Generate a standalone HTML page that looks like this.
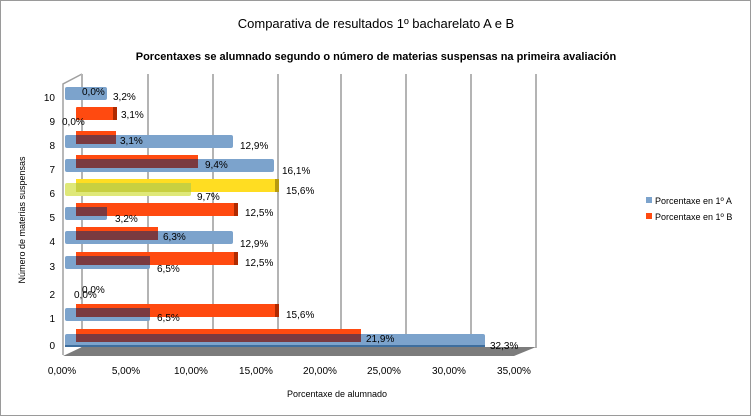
<!DOCTYPE html>
<html><head><meta charset="utf-8"><style>
html,body{margin:0;padding:0;background:#fff;}
svg{display:block;}
text{font-family:"Liberation Sans",Arial,sans-serif;fill:#000;}
.v{font-size:10px;}
</style></head><body>
<svg width="752" height="417" viewBox="0 0 752 417" xmlns="http://www.w3.org/2000/svg">
<rect x="0.5" y="0.5" width="750" height="415" fill="#fff" stroke="#9a9a9a"/>
<text x="376" y="28" font-size="13" text-anchor="middle">Comparativa de resultados 1º bacharelato A e B</text>
<text x="376" y="60" font-size="11" font-weight="bold" text-anchor="middle">Porcentaxes se alumnado segundo o número de materias suspensas na primeira avaliación</text>
<!-- walls -->
<polyline points="63,355 63,84 82,74" fill="none" stroke="#a0a0a0" stroke-width="1.5"/>
<g stroke="#b4b4b4" stroke-width="2">
<line x1="82" y1="74" x2="82" y2="348"/>
<line x1="148" y1="74" x2="148" y2="348"/>
<line x1="213" y1="74" x2="213" y2="348"/>
<line x1="278" y1="74" x2="278" y2="348"/>
<line x1="341" y1="74" x2="341" y2="348"/>
<line x1="406" y1="74" x2="406" y2="348"/>
<line x1="471" y1="74" x2="471" y2="348"/>
<line x1="536" y1="74" x2="536" y2="348"/>
</g>
<polygon points="63,356 82,347 536,347 514,356" fill="#7c7c7c"/>
<!-- y labels -->
<g font-size="10" text-anchor="end">
<text x="55" y="101">10</text><text x="55" y="125">9</text><text x="55" y="149">8</text><text x="55" y="173">7</text><text x="55" y="197">6</text><text x="55" y="221">5</text><text x="55" y="245">4</text><text x="55" y="270">3</text><text x="55" y="298">2</text><text x="55" y="322">1</text><text x="55" y="349">0</text>
</g>
<!-- bars: red first, blue over, overlap maroon -->
<g>
<!-- row10 -->
<rect x="65" y="87" width="42" height="13" rx="2" fill="#7ca3cc"/>
<!-- row9 -->
<rect x="76" y="107" width="40" height="13" rx="1" fill="#ff4a10"/><rect x="113" y="107" width="4" height="13" fill="#b02a00"/>
<!-- row8 -->
<rect x="76" y="131" width="40" height="13" fill="#ff4a10"/>
<rect x="65" y="135" width="168" height="13" rx="2" fill="#7ca3cc"/>
<rect x="76" y="135" width="40" height="9" fill="#7a3a40"/>
<!-- row7 -->
<rect x="76" y="155" width="122" height="13" fill="#ff4a10"/>
<rect x="65" y="159" width="209" height="13" rx="2" fill="#7ca3cc"/>
<rect x="76" y="159" width="122" height="9" fill="#7a3a40"/>
<!-- row6 -->
<rect x="76" y="179" width="203" height="13" fill="#ffdd22"/><rect x="275" y="179" width="4" height="13" fill="#b89a10"/>
<rect x="65" y="183" width="126" height="13" rx="2" fill="#dfe878"/>
<rect x="76" y="183" width="115" height="9" fill="#c8d040"/>
<!-- row5 -->
<rect x="76" y="203" width="162" height="13" fill="#ff4a10"/><rect x="234" y="203" width="4" height="13" fill="#b02a00"/>
<rect x="65" y="207" width="42" height="13" rx="2" fill="#7ca3cc"/>
<rect x="76" y="207" width="31" height="9" fill="#7a3a40"/>
<!-- row4 -->
<rect x="76" y="227" width="82" height="13" fill="#ff4a10"/>
<rect x="65" y="231" width="168" height="13" rx="2" fill="#7ca3cc"/>
<rect x="76" y="231" width="82" height="9" fill="#7a3a40"/>
<!-- row3 -->
<rect x="76" y="252" width="162" height="13" fill="#ff4a10"/><rect x="234" y="252" width="4" height="13" fill="#b02a00"/>
<rect x="65" y="256" width="85" height="13" rx="2" fill="#7ca3cc"/>
<rect x="76" y="256" width="74" height="9" fill="#7a3a40"/>
<!-- row1 -->
<rect x="76" y="304" width="203" height="13" fill="#ff4a10"/><rect x="275" y="304" width="4" height="13" fill="#b02a00"/>
<rect x="65" y="308" width="85" height="13" rx="2" fill="#7ca3cc"/>
<rect x="76" y="308" width="74" height="9" fill="#7a3a40"/>
<!-- row0 -->
<rect x="76" y="329" width="285" height="13" fill="#ff4a10"/>
<rect x="65" y="334" width="420" height="13" rx="2" fill="#7ca3cc"/>
<rect x="76" y="334" width="285" height="8" fill="#7a3a40"/>
<rect x="65" y="345" width="420" height="2" fill="#3e6e9e"/>
</g>
<!-- value labels -->
<g class="v">
<text x="82" y="95">0,0%</text><text x="113" y="100">3,2%</text>
<text x="121" y="118">3,1%</text><text x="62" y="125">0,0%</text>
<text x="120" y="144">3,1%</text><text x="240" y="149">12,9%</text>
<text x="205" y="168">9,4%</text><text x="282" y="174">16,1%</text>
<text x="197" y="200">9,7%</text><text x="286" y="194">15,6%</text>
<text x="115" y="222">3,2%</text><text x="245" y="216">12,5%</text>
<text x="163" y="240">6,3%</text><text x="240" y="247">12,9%</text>
<text x="157" y="272">6,5%</text><text x="245" y="266">12,5%</text>
<text x="82" y="293">0,0%</text><text x="74" y="298">0,0%</text>
<text x="157" y="321">6,5%</text><text x="286" y="318">15,6%</text>
<text x="366" y="342">21,9%</text><text x="490" y="349">32,3%</text>
</g>
<!-- x labels -->
<g font-size="10" text-anchor="middle">
<text x="62" y="374">0,00%</text><text x="126" y="374">5,00%</text><text x="191" y="374">10,00%</text><text x="256" y="374">15,00%</text><text x="320" y="374">20,00%</text><text x="384" y="374">25,00%</text><text x="449" y="374">30,00%</text><text x="514" y="374">35,00%</text>
</g>
<text x="337" y="397" font-size="9" text-anchor="middle">Porcentaxe de alumnado</text>
<text transform="translate(25,220) rotate(-90)" font-size="9" text-anchor="middle">Número de materias suspensas</text>
<!-- legend -->
<rect x="646" y="197" width="6" height="6" fill="#7ca3cc"/>
<text x="655" y="204" font-size="9">Porcentaxe en 1º A</text>
<rect x="646" y="213" width="6" height="6" fill="#ff4a10"/>
<text x="655" y="220" font-size="9">Porcentaxe en 1º B</text>
</svg>
</body></html>
